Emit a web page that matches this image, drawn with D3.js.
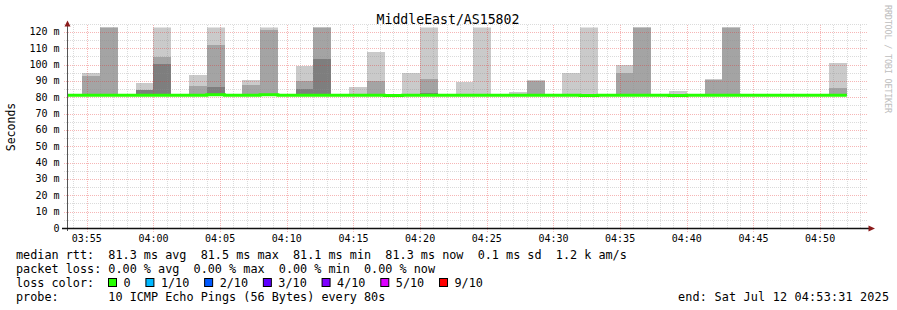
<!DOCTYPE html>
<html>
<head>
<meta charset="utf-8">
<script src="https://cdn.jsdelivr.net/npm/d3@7"></script>
<style>
  body { margin: 0; background: #fff; }
  text { font-family: "DejaVu Sans Mono", monospace; white-space: pre; }
</style>
</head>
<body>
<div id="chart"></div>
<script>
// chart values
var title = "MiddleEast/AS15802";
var graphStart = "2025-07-12 03:53:31";
var graphEnd = "2025-07-12 04:53:31";
var stepStart = "2025-07-12 03:53:20";   // first (partial) 80s step
var stepSeconds = 80;

// median rtt per step (ms)
var median = [81.3, 81.3, 81.3, 81.3, 81.3, 81.3, 81.3, 81.3, 81.5, 81.3, 81.3,
              81.5, 81.3, 81.3, 81.3, 81.3, 81.3, 81.3, 81.1, 81.3, 81.3, 81.3,
              81.3, 81.3, 81.3, 81.3, 81.3, 81.3, 81.3, 81.1, 81.3, 81.3, 81.3,
              81.3, 81.1, 81.3, 81.3, 81.3, 81.3, 81.3, 81.3, 81.3, 81.3, 81.3];

// the 10 sorted pings per step (ms), values over the top are drawn to the top
var pings = [
  [80.9, 81.0, 81.1, 81.2, 81.3, 81.3, 81.4, 81.5, 81.6, 81.9],
  [80.9, 81.0, 81.1, 81.2, 81.3, 81.3, 81.5, 81.8, 93.0, 94.9],
  [80.9, 81.0, 81.1, 81.2, 81.3, 81.4, 81.5, 81.9, 135, 140],
  [80.8, 81.0, 81.1, 81.2, 81.2, 81.3, 81.4, 81.6, 81.8, 82.0],
  [80.9, 81.0, 81.1, 81.2, 81.3, 81.4, 81.6, 84.4, 84.4, 88.7],
  [80.9, 81.0, 81.2, 81.2, 81.3, 81.4, 81.7, 100.4, 104.7, 140],
  [80.8, 80.9, 81.0, 81.1, 81.2, 81.3, 81.4, 81.5, 81.7, 81.9],
  [80.9, 81.0, 81.1, 81.2, 81.3, 81.3, 81.5, 81.8, 86.9, 93.6],
  [81.0, 81.1, 81.2, 81.3, 81.5, 81.5, 81.7, 86.3, 112.0, 140],
  [80.9, 81.0, 81.1, 81.2, 81.3, 81.4, 81.5, 81.6, 81.8, 82.0],
  [80.9, 81.0, 81.1, 81.2, 81.3, 81.4, 81.5, 81.9, 87.5, 90.6],
  [81.0, 81.1, 81.2, 81.3, 81.5, 81.5, 81.7, 82.0, 121.2, 140],
  [80.9, 81.0, 81.1, 81.2, 81.3, 81.3, 81.4, 81.6, 81.8, 81.9],
  [80.9, 81.0, 81.1, 81.2, 81.3, 81.4, 81.6, 85.1, 90.0, 99.1],
  [80.9, 81.0, 81.2, 81.2, 81.3, 81.4, 81.8, 103.4, 135, 140],
  [80.8, 81.0, 81.1, 81.2, 81.3, 81.3, 81.4, 81.5, 81.7, 82.0],
  [80.9, 81.0, 81.1, 81.2, 81.3, 81.3, 81.4, 81.6, 81.9, 86.3],
  [80.9, 81.0, 81.1, 81.2, 81.3, 81.4, 81.5, 81.8, 90.0, 107.7],
  [80.7, 80.8, 80.9, 81.0, 81.1, 81.1, 81.2, 81.3, 81.5, 81.7],
  [80.9, 81.0, 81.1, 81.2, 81.3, 81.3, 81.5, 81.7, 81.9, 94.9],
  [80.9, 81.0, 81.1, 81.2, 81.3, 81.4, 81.6, 82.6, 91.2, 140],
  [80.8, 80.9, 81.0, 81.1, 81.3, 81.3, 81.4, 81.5, 81.7, 81.9],
  [80.9, 81.0, 81.1, 81.2, 81.3, 81.3, 81.4, 81.6, 81.9, 89.4],
  [80.9, 81.0, 81.1, 81.2, 81.3, 81.4, 81.5, 81.7, 82.0, 140],
  [80.8, 81.0, 81.1, 81.2, 81.3, 81.3, 81.4, 81.5, 81.7, 81.9],
  [80.9, 81.0, 81.1, 81.2, 81.3, 81.3, 81.4, 81.6, 81.8, 83.0],
  [80.9, 81.0, 81.1, 81.2, 81.3, 81.4, 81.5, 81.8, 90.0, 90.3],
  [80.8, 80.9, 81.0, 81.2, 81.3, 81.3, 81.4, 81.5, 81.6, 81.9],
  [80.9, 81.0, 81.1, 81.2, 81.3, 81.3, 81.5, 81.7, 82.0, 94.9],
  [80.7, 80.8, 80.9, 81.0, 81.1, 81.1, 81.3, 81.5, 81.9, 140],
  [80.9, 81.0, 81.1, 81.2, 81.3, 81.3, 81.4, 81.5, 81.7, 81.9],
  [80.9, 81.0, 81.1, 81.2, 81.3, 81.4, 81.5, 81.9, 94.9, 99.8],
  [80.9, 81.0, 81.1, 81.2, 81.3, 81.4, 81.6, 81.9, 135, 140],
  [80.8, 81.0, 81.1, 81.2, 81.3, 81.3, 81.4, 81.5, 81.7, 82.0],
  [80.7, 80.8, 80.9, 81.0, 81.1, 81.1, 81.2, 81.4, 81.6, 83.8],
  [80.9, 81.0, 81.1, 81.2, 81.3, 81.3, 81.4, 81.5, 81.7, 81.9],
  [80.9, 81.0, 81.1, 81.2, 81.3, 81.3, 81.5, 81.8, 90.6, 91.2],
  [80.9, 81.0, 81.1, 81.2, 81.3, 81.4, 81.6, 82.0, 135, 140],
  [80.8, 80.9, 81.0, 81.2, 81.3, 81.3, 81.4, 81.5, 81.7, 81.9],
  [80.9, 81.0, 81.1, 81.2, 81.3, 81.3, 81.4, 81.6, 81.8, 82.0],
  [80.8, 81.0, 81.1, 81.2, 81.3, 81.3, 81.4, 81.5, 81.7, 81.9],
  [80.9, 81.0, 81.1, 81.2, 81.3, 81.3, 81.4, 81.5, 81.6, 81.8],
  [80.8, 80.9, 81.0, 81.2, 81.3, 81.3, 81.4, 81.5, 81.7, 81.9],
  [80.9, 81.0, 81.1, 81.2, 81.3, 81.3, 81.5, 81.8, 85.7, 101.0]
];

var yMax = 122.7;
var yLabelTicks = [0, 10, 20, 30, 40, 50, 60, 70, 80, 90, 100, 110, 120];
var lossColors = ["#26ff00", "#00b8ff", "#0059ff", "#5e00ff", "#7e00ff", "#dd00ff", "#ff0000"];
var lossLabels = ["0", "1/10", "2/10", "3/10", "4/10", "5/10", "9/10"];
var legendLines = [
  "median rtt:  81.3 ms avg  81.5 ms max  81.1 ms min  81.3 ms now  0.1 ms sd  1.2 k am/s",
  "packet loss: 0.00 % avg  0.00 % max  0.00 % min  0.00 % now"
];
var probeText = "probe:       10 ICMP Echo Pings (56 Bytes) every 80s";
var endText = "end: Sat Jul 12 04:53:31 2025";

// smoke shades, outer pair lightest (smokeping formula for 10 pings)
var smokeShades = ["#cacaca", "#a4a4a4", "#7e7e7e", "#585858", "#323232"];

var parse = d3.timeParse("%Y-%m-%d %H:%M:%S");
var t0 = parse(graphStart), t1 = parse(graphEnd), s0 = parse(stepStart);

var steps = pings.map(function(p, i) {
    var a = new Date(+s0 + i * stepSeconds * 1000);
    return { t: a, t2: new Date(+a + stepSeconds * 1000), p: p, med: median[i] };
});

var W = 897, H = 310;
var x = d3.scaleTime().domain([t0, t1]).range([67, 867]);
var y = d3.scaleLinear().domain([0, yMax]).range([228, 27.5]);

var gridMinor = "rgba(143,143,143,0.32)";
var gridMajor = "rgba(230,40,40,0.34)";

var svg = d3.select("#chart").append("svg")
    .attr("width", W).attr("height", H);

svg.append("rect").attr("width", W).attr("height", H).style("fill", "#fff");

svg.append("clipPath").attr("id", "plot")
  .append("rect")
    .attr("x", 67).attr("y", 27.5)
    .attr("width", 800).attr("height", 200.5);

// smoke
var smoke = svg.append("g").attr("clip-path", "url(#plot)")
    .attr("shape-rendering", "crispEdges");
steps.forEach(function(s) {
    for (var b = 0; b < 5; b++) {
        var lo = s.p[b], hi = s.p[9 - b];
        if (hi <= lo) continue;
        smoke.append("rect")
            .attr("x", x(s.t))
            .attr("width", x(s.t2) - x(s.t))
            .attr("y", y(hi))
            .attr("height", y(lo) - y(hi))
            .style("fill", smokeShades[b]);
    }
});

// grid
var grid = svg.append("g").style("fill", "none").style("stroke-dasharray", "1,1");
var minorY = d3.range(5, 126, 5);
grid.selectAll(".hy").data(minorY).enter().append("line")
    .attr("x1", 64).attr("x2", 867)
    .attr("y1", function(d) { return Math.round(y(d)) + 0.5; })
    .attr("y2", function(d) { return Math.round(y(d)) + 0.5; })
    .style("stroke", function(d) { return d % 10 === 0 ? gridMajor : gridMinor; });

var minuteTicks = x.ticks(d3.timeMinute.every(1));
grid.selectAll(".vx").data(minuteTicks).enter().append("line")
    .attr("x1", function(d) { return Math.round(x(d)) + 0.5; })
    .attr("x2", function(d) { return Math.round(x(d)) + 0.5; })
    .attr("y1", 25)
    .attr("y2", function(d) { return d.getMinutes() % 5 === 0 ? 232 : 228; })
    .style("stroke", function(d) { return d.getMinutes() % 5 === 0 ? gridMajor : gridMinor; });

// median line
var line = d3.line()
    .x(function(d) { return x(d.t); })
    .y(function(d) { return y(d.v); })
    .curve(d3.curveStepAfter);
var medPts = steps.map(function(s) { return { t: s.t, v: s.med }; });
var last = steps[steps.length - 1];
medPts.push({ t: last.t2, v: last.med });
svg.append("path").datum(medPts)
    .attr("clip-path", "url(#plot)")
    .attr("d", line)
    .style("fill", "none")
    .style("stroke", lossColors[0])
    .style("stroke-width", 3);

// axes
svg.append("line")
    .attr("x1", 67.5).attr("x2", 67.5).attr("y1", 231).attr("y2", 24)
    .style("stroke", "#555").style("stroke-width", 1);
svg.append("line")
    .attr("x1", 62).attr("x2", 869).attr("y1", 228.5).attr("y2", 228.5)
    .style("stroke", "#111").style("stroke-width", 1.6);
svg.append("path")
    .attr("d", "M64.5,26.5 L67.5,20.5 L70.5,26.5 Z")
    .style("fill", "#8b1b1b");
svg.append("path")
    .attr("d", "M868.5,225.5 L875,228.5 L868.5,231.5 Z")
    .style("fill", "#8b1b1b");

// axis labels
svg.selectAll(".yl").data(yLabelTicks).enter().append("text")
    .attr("x", 59.5)
    .attr("y", function(d) { return y(d) + 3.5; })
    .attr("text-anchor", "end")
    .style("font-size", "10px")
    .style("fill", "#000")
    .text(function(d) { return d === 0 ? "0" : d + " m"; });

var labelTicks = x.ticks(d3.timeMinute.every(5));
svg.selectAll(".xl").data(labelTicks).enter().append("text")
    .attr("x", function(d) { return x(d); })
    .attr("y", 242)
    .attr("text-anchor", "middle")
    .style("font-size", "10px")
    .style("fill", "#000")
    .text(d3.timeFormat("%H:%M"));

svg.append("text")
    .attr("transform", "translate(15,127) rotate(-90)")
    .attr("text-anchor", "middle")
    .style("font-size", "11.5px")
    .text("Seconds");

svg.append("text")
    .attr("x", 448).attr("y", 24)
    .attr("text-anchor", "middle")
    .style("font-size", "13.2px")
    .text(title);

svg.append("text")
    .attr("transform", "translate(885,5) rotate(90)")
    .attr("textLength", 108)
    .attr("lengthAdjust", "spacing")
    .style("font-size", "8.5px")
    .style("fill", "#bdbdbd")
    .text("RRDTOOL / TOBI OETIKER");

// legend
var legend = svg.append("g").style("font-size", "11.8px").style("fill", "#000");
legend.selectAll(".ll").data(legendLines).enter().append("text")
    .attr("x", 16)
    .attr("y", function(d, i) { return 258.5 + i * 14; })
    .text(function(d) { return d; });

legend.append("text").attr("x", 16).attr("y", 286.5).text("loss color:");
var lx = 108.5;
lossColors.forEach(function(c, i) {
    legend.append("rect")
        .attr("x", lx).attr("y", 278.5)
        .attr("width", 8).attr("height", 8)
        .style("fill", c)
        .style("stroke", "#000").style("stroke-width", 1);
    var t = legend.append("text")
        .attr("x", lx + 15).attr("y", 286.5)
        .text(lossLabels[i]);
    lx = lx + 15 + t.node().getComputedTextLength() + 15.3;
});

legend.append("text").attr("x", 16).attr("y", 300.5).text(probeText);
legend.append("text")
    .attr("x", 889).attr("y", 300.5)
    .attr("text-anchor", "end")
    .attr("textLength", 211)
    .attr("lengthAdjust", "spacing")
    .text(endText);
</script>
</body>
</html>
